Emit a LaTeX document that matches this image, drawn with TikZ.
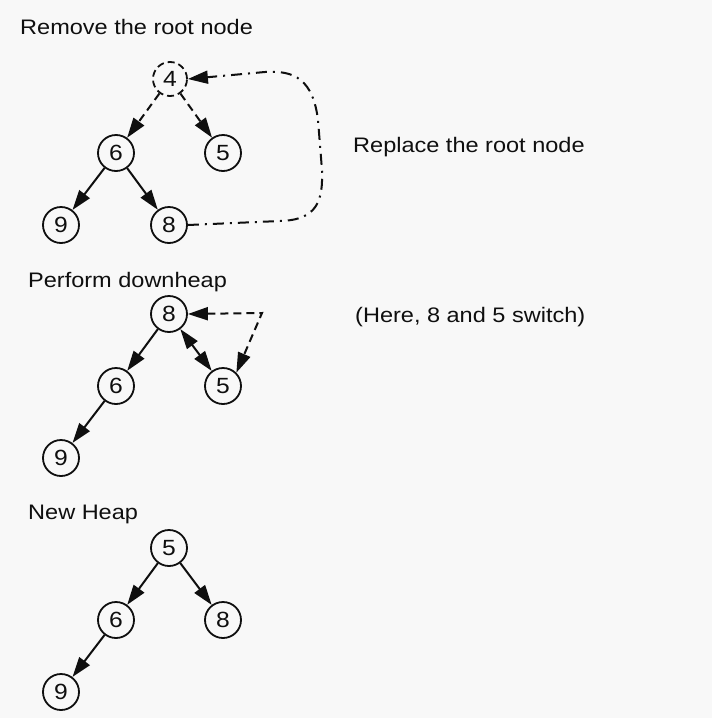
\documentclass[tikz,border=0pt]{standalone}
\usepackage{fontspec}
\setmainfont[FakeStretch=1.12]{Liberation Sans}
\usetikzlibrary{arrows.meta}
\definecolor{bg}{RGB}{248,248,248}
\definecolor{ink}{RGB}{15,15,15}
\tikzset{
  hn/.style={circle,draw=ink,text=ink,line width=1.8pt,minimum size=36pt,inner sep=0pt,font=\fontsize{22}{24}\selectfont},
  hnd/.style={hn,dash pattern=on 7pt off 4pt,minimum size=34pt},
  lab/.style={anchor=base west,inner sep=0pt,text=ink,font=\fontsize{21}{24}\selectfont},
  ah/.tip={Triangle[length=20pt,width=13pt]},
  tip/.style={-ah},
  ed/.style={draw=ink,line width=2pt,tip},
  ddash/.style={dash pattern=on 8pt off 5pt},
  ddot/.style={draw=ink,line width=2pt,dash pattern=on 11pt off 6pt on 2pt off 6pt},
}
\begin{document}
\begin{tikzpicture}[x=1pt,y=-1pt]
\fill[bg] (0,0) rectangle (712,718);
\useasboundingbox (0,0) rectangle (712,718);
% section 1
\node[lab] (t1) at (20,34) {Remove the root node};
\node[hnd] (a4) at (170,79) {4};
\node[hn] (a6) at (116,153) {6};
\node[hn] (a5) at (223,153) {5};
\node[hn] (a9) at (61,225) {9};
\node[hn] (a8) at (169,225) {8};
\draw[ed,ddash] (a4) -- (a6);
\draw[ed,ddash] (a4) -- (a5);
\draw[ed] (a6) -- (a9);
\draw[ed] (a6) -- (a8);
\node[lab] (t2) at (353,152) {Replace the root node};
\draw[ddot,tip] (a8.east) -- (280,221) .. controls (318,220) and (323,200) .. (322,170)
  -- (318,120) .. controls (313,80) and (295,70) .. (265,72) -- (a4.east);
% section 2
\node[lab] (t3) at (28,287) {Perform downheap};
\node[hn] (b8) at (169,314) {8};
\node[hn] (b6) at (116,386) {6};
\node[hn] (b5) at (223,386) {5};
\node[hn] (b9) at (61,458) {9};
\draw[ed] (b8) -- (b6);
\draw[ed] (b6) -- (b9);
\draw[draw=ink,line width=2pt,ah-ah] (b8) -- (b5);
\coordinate (bc) at (262,313);
\draw[draw=ink,line width=2pt,ddash,ah-ah] (b8.east) -- (bc) -- (b5.north east);
\node[lab] (t4) at (355,322) {(Here, 8 and 5 switch)};
% section 3
\node[lab] (t5) at (28,519) {New Heap};
\node[hn] (c5) at (169,548) {5};
\node[hn] (c6) at (116,620) {6};
\node[hn] (c8) at (223,620) {8};
\node[hn] (c9) at (61,692) {9};
\draw[ed] (c5) -- (c6);
\draw[ed] (c5) -- (c8);
\draw[ed] (c6) -- (c9);
\end{tikzpicture}
\end{document}
